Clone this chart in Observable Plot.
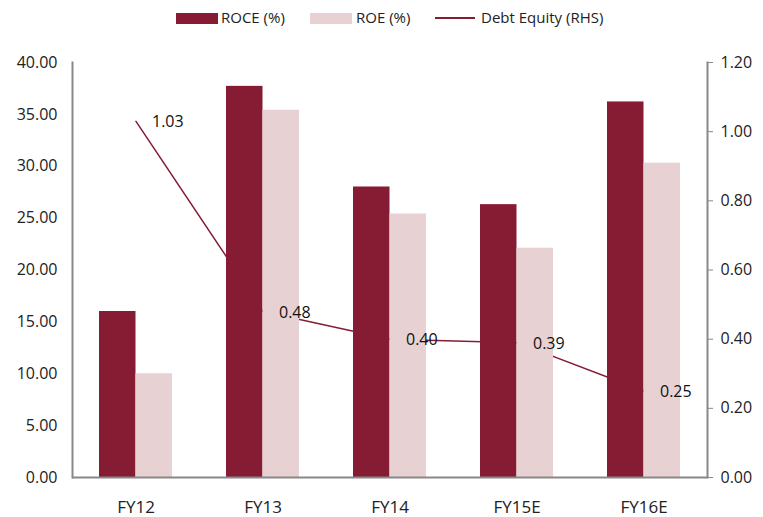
<!DOCTYPE html>
<html>
<head>
<meta charset="utf-8">
<script src="https://cdn.jsdelivr.net/npm/d3@7"></script>
<script src="https://cdn.jsdelivr.net/npm/@observablehq/plot@0.6"></script>
<style>
  html, body { margin: 0; padding: 0; background: #fff; }
  #wrap { width: 763px; height: 517px; position: relative; font-family: "Open Sans", sans-serif; color: #222; }
  #legend { position: relative; height: 30px; width: 763px; font-size: 15px; }
  .sw { position: absolute; top: 13px; width: 42px; height: 11px; }
  .ln { position: absolute; top: 17px; width: 40px; height: 0; border-top: 2px solid #851C34; }
  .lt { position: absolute; top: 7px; line-height: 20px; white-space: nowrap; }
  svg { display: block; }
</style>
</head>
<body>
<div id="wrap">
  <div id="legend"></div>
  <div id="chart"></div>
</div>
<script>
const categories = ["FY12", "FY13", "FY14", "FY15E", "FY16E"];
const roce = [16.0, 37.7, 28.0, 26.3, 36.2];
const roe = [10.0, 35.4, 25.4, 22.1, 30.3];
const debtEquity = [1.03, 0.48, 0.40, 0.39, 0.25];
const leftTicks = [0, 5, 10, 15, 20, 25, 30, 35, 40];
const rightTicks = [0, 0.2, 0.4, 0.6, 0.8, 1.0, 1.2];
const seriesNames = ["ROCE (%)", "ROE (%)", "Debt Equity (RHS)"];

const colRoce = "#851C34";
const colRoe = "#E8D1D2";
const colLine = "#851C34";
const axisCol = "#888888";
const k = 40 / 1.2;

// legend
const legend = document.getElementById("legend");
legend.innerHTML = `
  <div class="sw" style="left:176px;background:${colRoce}"></div>
  <div class="lt" style="left:221px">${seriesNames[0]}</div>
  <div class="sw" style="left:310px;background:${colRoe}"></div>
  <div class="lt" style="left:356px">${seriesNames[1]}</div>
  <div class="ln" style="left:435px"></div>
  <div class="lt" style="left:481px">${seriesNames[2]}</div>`;

const chart = Plot.plot({
  width: 763,
  height: 487,
  marginTop: 32,
  marginBottom: 40,
  marginLeft: 72,
  marginRight: 56,
  style: { fontFamily: "Open Sans, sans-serif", color: "#222", background: "#fff", overflow: "visible" },
  x: { type: "band", domain: categories, padding: 0 },
  y: { domain: [0, 40] },
  marks: [
    Plot.lineY(categories, { x: d => d, y: (d, i) => debtEquity[i] * k, stroke: colLine, strokeWidth: 1.5 }),
    Plot.barY(categories, { x: d => d, y: (d, i) => roce[i], fill: colRoce, insetLeft: 27, insetRight: 63.5 }),
    Plot.barY(categories, { x: d => d, y: (d, i) => roe[i], fill: colRoe, insetLeft: 63.5, insetRight: 27 }),
    Plot.text(categories, { x: d => d, y: (d, i) => debtEquity[i] * k, text: (d, i) => debtEquity[i].toFixed(2), textAnchor: "start", dx: 16, dy: 1, fontSize: 16, fill: "#111" }),
    Plot.frame({ anchor: "left", stroke: axisCol, strokeWidth: 2 }),
    Plot.frame({ anchor: "right", stroke: axisCol, strokeWidth: 2 }),
    Plot.ruleY([0], { stroke: axisCol, strokeWidth: 2 }),
    Plot.axisY({ ticks: leftTicks, tickFormat: d => d.toFixed(2), tickSize: 0, tickPadding: 15, fontSize: 16, anchor: "left" }),
    Plot.axisY(rightTicks.map(v => v * k), { anchor: "right", tickFormat: d => (d / k).toFixed(2), tickSize: 5, tickPadding: 8, fontSize: 16, stroke: axisCol }),
    Plot.axisX({ tickSize: 0, tickPadding: 23, fontSize: 17 })
  ]
});
document.getElementById("chart").appendChild(chart);
</script>
</body>
</html>
